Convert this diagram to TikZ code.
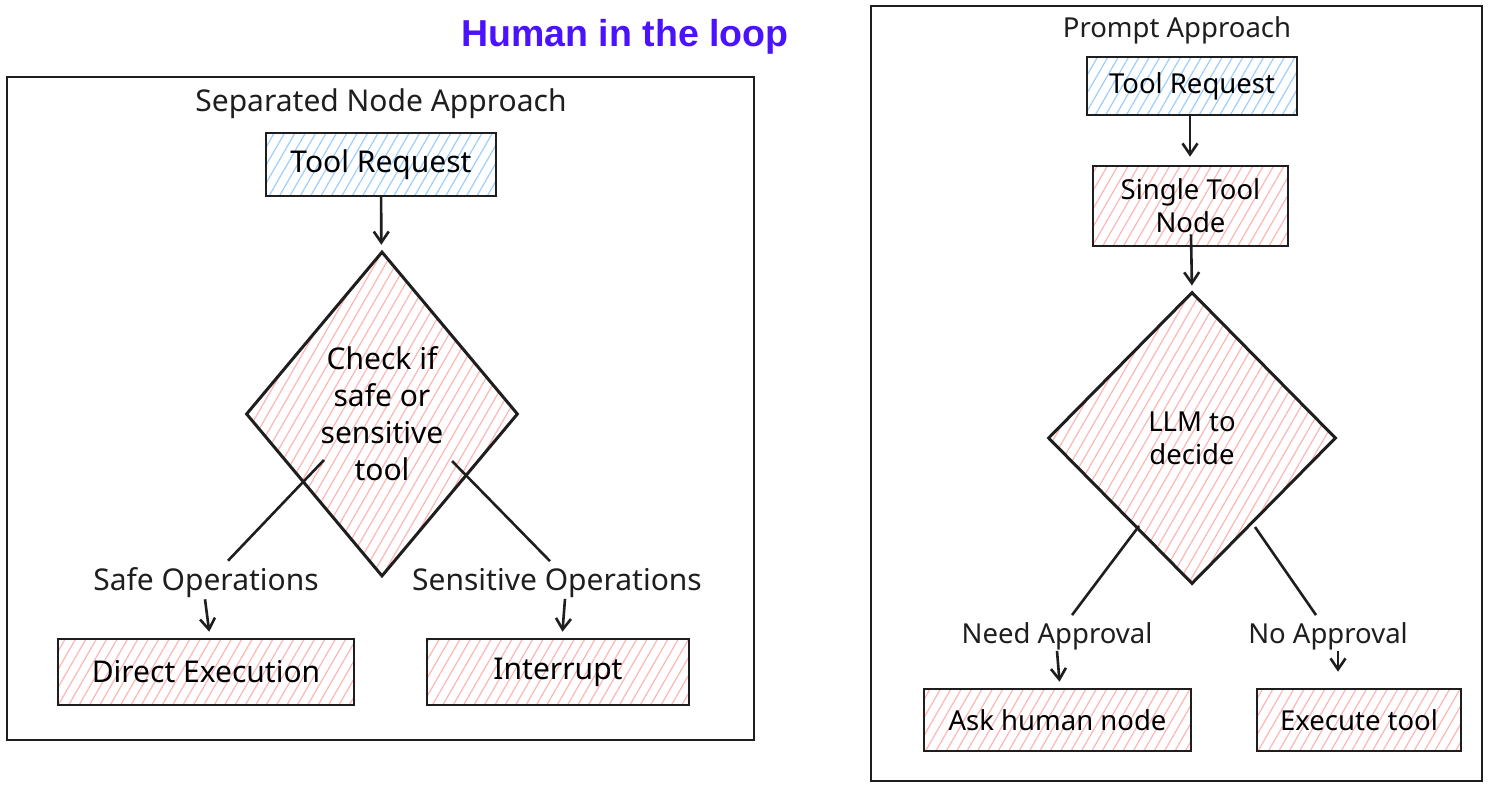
\documentclass[tikz,border=0pt]{standalone}
\usepackage{fontspec}
\setmainfont{Noto Sans}
\newfontfamily\titlefont{Liberation Sans}
\usetikzlibrary{shapes.geometric,arrows.meta,patterns.meta,calc}
\definecolor{ink}{HTML}{1E1E1E}
\definecolor{hatchred}{HTML}{FFB5B5}
\definecolor{hatchblue}{HTML}{9CCFFF}
\definecolor{titleblue}{HTML}{4A12FF}
\tikzset{
  frame/.style={draw=ink, line width=2.6pt, rectangle, inner sep=0pt},
  hbox/.style={draw=ink, line width=2.6pt, rectangle, inner sep=0pt, align=center,
    pattern={Lines[angle=60,distance=9pt,line width=1.2pt]}, pattern color=hatchred},
  bluebox/.style={hbox, pattern color=hatchblue},
  dia/.style={diamond, draw=ink, line width=3pt, inner sep=0pt, align=center,
    pattern={Lines[angle=60,distance=9pt,line width=1.2pt]}, pattern color=hatchred},
  lfont/.style={font=\fontsize{30}{37}\selectfont},
  rfont/.style={font=\fontsize{27.5}{33}\selectfont},
  lbl/.style={inner sep=1pt, text=ink},
  conn/.style={draw=ink, line width=2.6pt},
  arr/.style={conn, -{Straight Barb[length=11pt,width=15pt,line width=2.6pt]}},
}
\begin{document}
\begin{tikzpicture}[x=1pt,y=-1pt]
\useasboundingbox[fill=white] (0,0) rectangle (1488,788);
% title
\node[font=\titlefont\bfseries\fontsize{37.5}{40}\selectfont, text=titleblue, inner sep=0pt] (title) at (625,37) {Human in the loop};

% ===== left frame =====
\node[frame, minimum width=747pt, minimum height=663pt] (lframe) at (380.5,408.5) {};
\node[lbl, lfont] (ltitle) at (381,104) {Separated Node Approach};
\node[bluebox, lfont, minimum width=230pt, minimum height=63pt] (ltr) at (381,164.5) {Tool Request};
\node[dia, lfont, minimum width=272pt, minimum height=325pt] (lcheck) at (382,414) {Check if\\safe or\\sensitive\\tool};
\node[lbl, lfont] (lsafe) at (206,583) {Safe Operations};
\node[lbl, lfont] (lsens) at (557,583) {Sensitive Operations};
\node[hbox, lfont, minimum width=296pt, minimum height=66pt] (ldirect) at (206,672) {Direct Execution};
\node[hbox, lfont, minimum width=262pt, minimum height=66pt] (lint) at (558,672) {Interrupt};
\coordinate (lsstart) at (324,460);
\coordinate (lrstart) at (452,461);

\draw[arr, shorten >=6pt] (ltr) -- (lcheck);
\draw[conn] (lsstart) -- ([xshift=22pt,yshift=6pt]lsafe.north);
\draw[conn] (lrstart) -- ([xshift=-7pt,yshift=6pt]lsens.north);
\draw[arr, shorten >=6pt] ([xshift=-1pt]lsafe.south) -- ([xshift=4pt]ldirect.north);
\draw[arr, shorten >=6pt] ([xshift=8pt]lsens.south) -- ([xshift=4pt]lint.north);

% ===== right frame =====
\node[frame, minimum width=611pt, minimum height=775pt] (rframe) at (1176.5,393.5) {};
\node[lbl, rfont] (rtitle) at (1177,30) {Prompt Approach};
\node[bluebox, rfont, minimum width=210pt, minimum height=58pt] (rtr) at (1192,86) {Tool Request};
\node[hbox, rfont, minimum width=195pt, minimum height=80pt] (rsingle) at (1190.5,206) {Single Tool\\Node};
\node[dia, rfont, minimum width=288pt, minimum height=292pt] (rllm) at (1192,438) {LLM to\\decide};
\node[lbl, rfont] (rneed) at (1057,636) {Need Approval};
\node[lbl, rfont] (rno) at (1328,636) {No Approval};
\node[hbox, rfont, minimum width=267pt, minimum height=62pt] (rask) at (1057.5,720) {Ask human node};
\node[hbox, rfont, minimum width=204pt, minimum height=62pt] (rexec) at (1359,720) {Execute tool};
\coordinate (rnstart) at (1139,526);
\coordinate (rostart) at (1255,527);

\draw[arr, shorten >=8pt] ([xshift=-2pt]rtr.south) -- ([xshift=-0.5pt]rsingle.north);
\draw[arr, shorten >=5pt] ([xshift=0.5pt,yshift=13pt]rsingle.south) -- (rllm.north);
\draw[conn] (rnstart) -- ([xshift=15pt,yshift=6pt]rneed.north);
\draw[conn] (rostart) -- ([xshift=-12pt,yshift=6pt]rno.north);
\draw[arr, shorten >=6pt] (rneed.south) -- ([xshift=2.5pt]rask.north);
\draw[arr, shorten >=16pt] ([xshift=10pt]rno.south) -- ([xshift=-21pt]rexec.north);
\end{tikzpicture}
\end{document}
